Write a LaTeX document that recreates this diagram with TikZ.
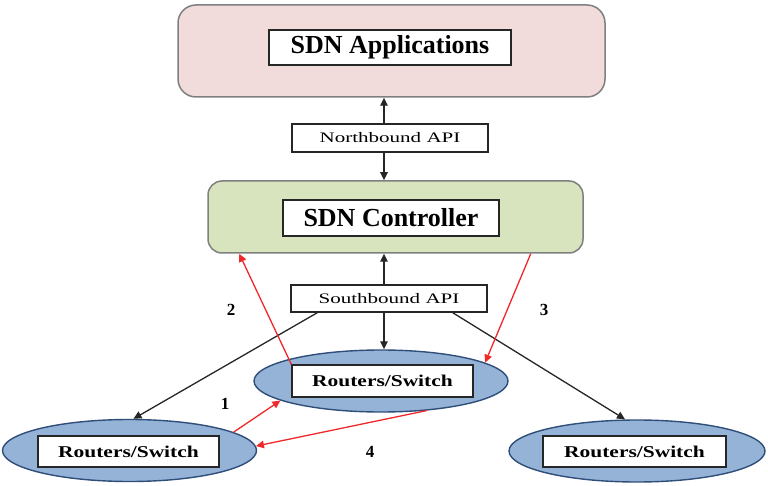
\documentclass[tikz,border=0pt]{standalone}
\usepackage{fontspec}
\usepackage{graphicx}
\setmainfont{Liberation Serif}
\usetikzlibrary{arrows.meta,shapes.geometric,calc}
\definecolor{appfill}{HTML}{F2DCDB}
\definecolor{ctrlfill}{HTML}{D7E4BD}
\definecolor{ellfill}{HTML}{95B3D7}
\definecolor{ellline}{HTML}{2F4F7A}
\definecolor{boxgray}{HTML}{7F7F7F}
\definecolor{redline}{HTML}{F0282A}
\tikzset{
  layer/.style={draw=boxgray, line width=1.5pt, rounded corners=18pt, inner sep=0pt},
  txtbox/.style={draw=black!85, fill=white, line width=1.4pt, inner sep=0pt, align=center},
  dev/.style={ellipse, draw=ellline, fill=ellfill, line width=1.4pt, inner sep=0pt,
              minimum width=254pt, minimum height=62pt},
  bigtxt/.style={font=\fontsize{26}{30}\selectfont\bfseries},
  apitxt/.style={font=\fontsize{14.5}{17}\selectfont},
  devtxt/.style={font=\fontsize{16.5}{19}\selectfont\bfseries},
  numtxt/.style={font=\fontsize{17}{20}\selectfont\bfseries},
  blk/.style={draw=black!85, line width=1.3pt, -{Triangle[length=8pt,width=7.5pt]}},
  red/.style={draw=redline, line width=1.3pt, -{Triangle[length=8pt,width=7.5pt]}},
}
\begin{document}
\begin{tikzpicture}[x=1pt,y=-1pt]
\useasboundingbox (0,0) rectangle (768,486);
% layers
\node[layer, fill=appfill, minimum width=427pt, minimum height=92pt] (apps) at (391.5,51) {};
\node[layer, fill=ctrlfill, rounded corners=14pt, minimum width=375pt, minimum height=72pt] (ctrl) at (395.5,217) {};
\node[txtbox, bigtxt, minimum width=242pt, minimum height=35pt] (appsbox) at (390,47.5) {SDN Applications};
\node[txtbox, bigtxt, minimum width=216pt, minimum height=36pt] (ctrlbox) at (391,218) {SDN Controller};
% APIs
\node[txtbox, apitxt, minimum width=196pt, minimum height=28pt] (nb) at (390,138) {\scalebox{1.45}[1]{Northbound API}};
\node[txtbox, apitxt, minimum width=196pt, minimum height=27pt] (sb) at (389,298.5) {\scalebox{1.45}[1]{Southbound API}};
% devices
\node[dev] (mid) at (381,381) {};
\node[dev] (left) at (129.5,450.5) {};
\node[dev, minimum width=256pt] (right) at (637,451) {};
\node[txtbox, devtxt, minimum width=181pt, minimum height=32pt] (midbox) at (382.5,381) {\scalebox{1.3}[1]{Routers/Switch}};
\node[txtbox, devtxt, minimum width=181pt, minimum height=31pt] (leftbox) at (128.5,451.5) {\scalebox{1.3}[1]{Routers/Switch}};
\node[txtbox, devtxt, minimum width=183pt, minimum height=31pt] (rightbox) at (634.5,451.5) {\scalebox{1.3}[1]{Routers/Switch}};
% vertical connectors
\coordinate (vx) at (384,0);
\draw[blk] (nb.north -| vx) -- (apps.south -| vx);
\draw[blk] (nb.south -| vx) -- (ctrl.north -| vx);
\draw[blk] (sb.north -| vx) -- (ctrl.south -| vx);
\draw[blk] (sb.south -| vx) -- (mid.north -| vx);
% diagonal black
\draw[blk] ($(sb.south west)+(27,0)$) -- ($(left.north)+(4,0)$);
\draw[blk] ($(sb.south east)+(-35,0)$) -- ($(right.north)+(-12,0)$);
% red arrows
\draw[red] (midbox.north west) -- ($(ctrl.south west)+(32,0)$);
\draw[red] ($(ctrl.south east)+(-53,0)$) -- (mid.10);
\draw[red] (left.10) -- (mid.191);
\draw[red] (mid.-33) -- (left.2);
% numbers
\node[numtxt] (n2) at (231,310) {2};
\node[numtxt] (n3) at (544,310) {3};
\node[numtxt] (n1) at (225,404) {1};
\node[numtxt] (n4) at (370,452) {4};
\end{tikzpicture}
\end{document}
